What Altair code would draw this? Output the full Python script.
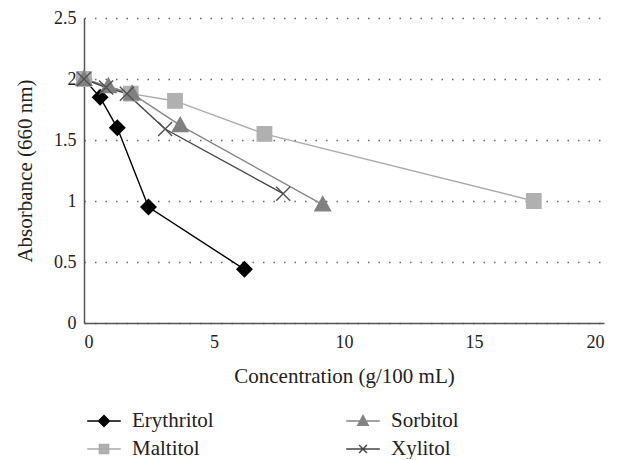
import altair as alt
import pandas as pd

series = ["Erythritol", "Sorbitol", "Maltitol", "Xylitol"]
colors = ["#000000", "#808080", "#b0b0b0", "#505050"]

ery_x = [0, 0.62, 1.28, 2.48, 6.17]
ery_y = [2.0, 1.85, 1.6, 0.95, 0.44]
mal_x = [0, 1.8, 3.5, 6.94, 17.3]
mal_y = [2.0, 1.88, 1.82, 1.55, 1.0]
sor_x = [0, 0.94, 1.85, 3.7, 9.18]
sor_y = [2.0, 1.94, 1.88, 1.62, 0.97]
xyl_x = [0, 0.85, 1.65, 3.12, 7.66]
xyl_y = [2.0, 1.93, 1.88, 1.59, 1.06]

rows = []
for name, xs, ys in [("Erythritol", ery_x, ery_y), ("Maltitol", mal_x, mal_y),
                     ("Sorbitol", sor_x, sor_y), ("Xylitol", xyl_x, xyl_y)]:
    for i, (a, b) in enumerate(zip(xs, ys)):
        rows.append({"series": name, "conc": a, "abs": b, "order": i})
df = pd.DataFrame(rows)

FONT = "'Liberation Serif', 'DejaVu Serif', serif"

plot_shapes = [
    "M0,-0.75L0.75,0L0,0.75L-0.75,0Z",
    "M0,-0.8L0.78,0.62L-0.78,0.62Z",
    "M-0.72,-0.72H0.72V0.72H-0.72Z",
    "M-0.7,-0.7L0.7,0.7M-0.7,0.7L0.7,-0.7",
]
leg_shapes = [
    "M-1.2,0H1.2M0,-0.39L0.39,0L0,0.39L-0.39,0Z",
    "M-1.2,0H1.2M0,-0.4L0.37,0.3L-0.37,0.3Z",
    "M-1.2,0H1.2M-0.33,-0.33H0.33V0.33H-0.33Z",
    "M-1.2,0H1.2M-0.28,-0.28L0.28,0.28M-0.28,0.28L0.28,-0.28",
]
fill_vals = ["#000000", "#808080", "#b0b0b0", "transparent"]

x_enc = alt.X("conc:Q", scale=alt.Scale(domain=[0, 20], nice=False),
              axis=alt.Axis(values=[0, 5, 10, 15, 20], title="Concentration (g/100 mL)",
                            grid=False, ticks=False, domainColor="#555555", domainWidth=1.5,
                            labelFont=FONT, labelFontSize=18, labelColor="#222",
                            titleFont=FONT, titleFontSize=21, titleFontWeight="normal",
                            titleColor="#222", labelPadding=10, titlePadding=14))
y_enc = alt.Y("abs:Q", scale=alt.Scale(domain=[0, 2.5], nice=False),
              axis=alt.Axis(values=[0, 0.5, 1, 1.5, 2, 2.5], format="~g",
                            title="Absorbance (660 nm)",
                            grid=True, gridDash=[1.5, 9], gridColor="#666", gridWidth=1.3,
                            ticks=False, domainColor="#555555", domainWidth=1.5,
                            labelFont=FONT, labelFontSize=18, labelColor="#222",
                            titleFont=FONT, titleFontSize=21, titleFontWeight="normal",
                            titleColor="#222", labelPadding=8, titlePadding=18))

color_scale = alt.Scale(domain=series, range=colors)
line_scale = alt.Scale(domain=series, range=["#000000", "#858585", "#aaaaaa", "#454545"])

lines = alt.Chart(df).mark_line(strokeWidth=1.4).encode(
    x=x_enc, y=y_enc,
    color=alt.Color("series:N", scale=line_scale, legend=None),
    detail="series:N",
    order="order:Q",
)

points = alt.Chart(df).mark_point(size=400, strokeWidth=1.4, opacity=1).encode(
    x=x_enc, y=y_enc,
    shape=alt.Shape("series:N", scale=alt.Scale(domain=series, range=plot_shapes), legend=None),
    stroke=alt.Stroke("series:N", scale=color_scale, legend=None),
    fill=alt.Fill("series:N", scale=alt.Scale(domain=series, range=fill_vals), legend=None),
)

leg = alt.Legend(title=None, orient="none", legendX=5, legendY=388,
                 columns=2, direction="horizontal",
                 labelFont=FONT, labelFontSize=21, labelColor="#222",
                 symbolOpacity=1, symbolStrokeWidth=1.4, symbolSize=784,
                 columnPadding=129, rowPadding=3, labelOffset=13)

legend_layer = alt.Chart(df).mark_point(size=784, strokeWidth=1.4, opacity=0).encode(
    x=x_enc, y=y_enc,
    shape=alt.Shape("series:N", scale=alt.Scale(domain=series, range=leg_shapes), legend=leg),
    stroke=alt.Stroke("series:N", scale=line_scale, legend=leg),
    fill=alt.Fill("series:N", scale=alt.Scale(domain=series, range=fill_vals), legend=leg),
)

chart = alt.layer(lines, points, legend_layer).resolve_scale(
    shape="independent", fill="independent", stroke="independent"
).properties(width=520, height=305, padding={"left": 6, "top": 1, "right": 5, "bottom": 0}).configure_view(stroke=None)

chart.save("out.html", embed_options={"renderer": "svg", "actions": False})
